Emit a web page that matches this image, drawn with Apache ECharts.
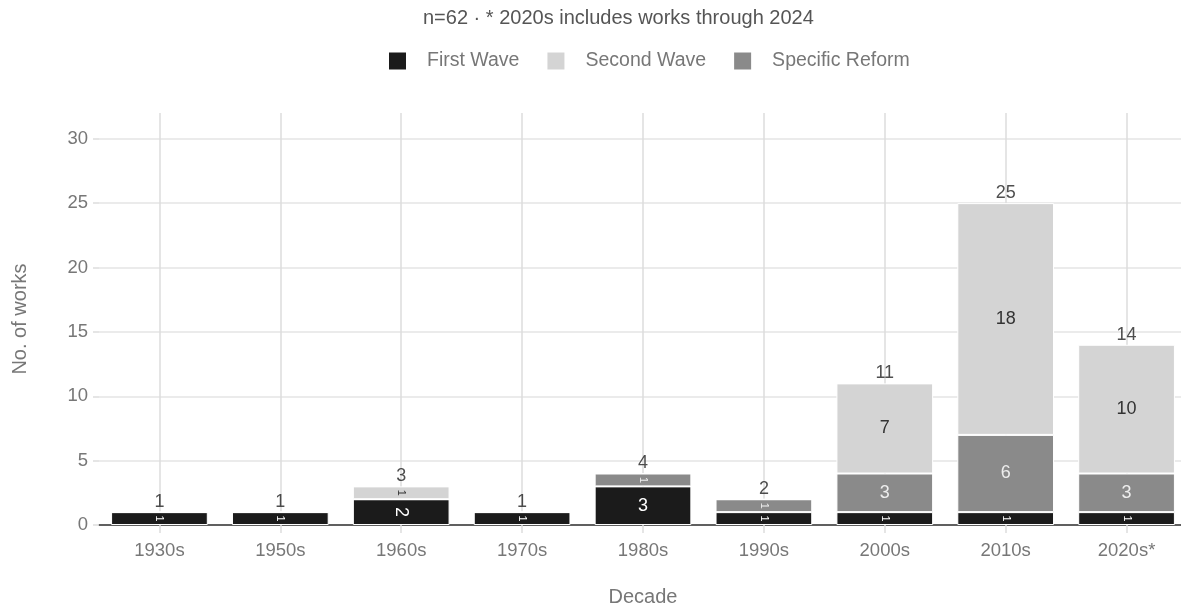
<!DOCTYPE html>
<html>
<head>
<meta charset="utf-8">
<script src="https://cdn.jsdelivr.net/npm/echarts@6/dist/echarts.min.js"></script>
<style>
  html, body { margin: 0; padding: 0; background: #fff; }
  #chart { width: 1181px; height: 610px; }
</style>
</head>
<body>
<div id="chart"></div>
<script>
// Works per decade, split by wave
const decades = ['1930s', '1950s', '1960s', '1970s', '1980s', '1990s', '2000s', '2010s', '2020s*'];
const firstWave = [1, 1, 2, 1, 3, 1, 1, 1, 1];
const specificReform = [0, 0, 0, 0, 1, 1, 3, 6, 3];
const secondWave = [0, 0, 1, 0, 0, 0, 7, 18, 10];
const yTicks = [0, 5, 10, 15, 20, 25, 30];

const FONT = '"Liberation Sans", Arial, sans-serif';
const totals = decades.map((_, i) => firstWave[i] + specificReform[i] + secondWave[i]);

// Segment labels: short segments get a small, rotated label
function segmentData(values, textColor) {
  return values.map(v => {
    if (!v) return { value: v, label: { show: false } };
    const small = v <= 2;
    return {
      value: v,
      label: {
        show: true,
        color: textColor,
        rotate: small ? -90 : 0,
        fontSize: v === 1 ? 11 : 18
      }
    };
  });
}

function barSeries(name, values, color, textColor) {
  return {
    name: name,
    type: 'bar',
    stack: 'works',
    barCategoryGap: '20%',
    itemStyle: { color: color, borderColor: '#ffffff', borderWidth: 1 },
    label: { position: 'inside', fontFamily: FONT },
    emphasis: { disabled: true },
    data: segmentData(values, textColor)
  };
}

const chart = echarts.init(document.getElementById('chart'), null, { renderer: 'canvas' });
chart.setOption({
  animation: false,
  backgroundColor: '#ffffff',
  title: {
    text: 'n=62 · * 2020s includes works through 2024',
    left: 418,
    top: 3,
    textStyle: { fontFamily: FONT, fontSize: 20, fontWeight: 'normal', color: '#555' }
  },
  legend: {
    left: 384,
    top: 46,
    itemWidth: 17,
    itemHeight: 17,
    itemGap: 28,
    icon: 'rect',
    itemStyle: { borderWidth: 0 },
    data: ['First Wave', 'Second Wave', 'Specific Reform'],
    textStyle: { fontFamily: FONT, fontSize: 19.5, color: '#777', padding: [0, 0, 0, 16] }
  },
  grid: { left: 99, right: -6, top: 113, bottom: 85, outerBoundsMode: 'none', containLabel: false },
  xAxis: {
    type: 'category',
    data: decades,
    name: 'Decade',
    nameLocation: 'middle',
    nameGap: 62,
    nameTextStyle: { fontFamily: FONT, fontSize: 20, color: '#777' },
    axisLine: { show: true, lineStyle: { color: '#333', width: 1.5 } },
    axisTick: { show: true, alignWithLabel: true, length: 8, lineStyle: { color: '#dddddd', width: 1.5 } },
    axisLabel: { fontFamily: FONT, fontSize: 18.5, color: '#777', margin: 16 },
    splitLine: { show: true, alignWithLabel: true, lineStyle: { color: '#dddddd', width: 1.5 } }
  },
  yAxis: {
    type: 'value',
    min: 0,
    max: 32,
    interval: 5,
    name: 'No. of works',
    nameLocation: 'middle',
    nameGap: 69,
    nameTextStyle: { fontFamily: FONT, fontSize: 20, color: '#777' },
    axisLine: { show: false },
    axisTick: { show: true, length: 6, customValues: yTicks, lineStyle: { color: '#dddddd', width: 1.5 } },
    axisLabel: { fontFamily: FONT, fontSize: 18.5, color: '#777', margin: 11, customValues: yTicks },
    splitLine: { show: true, lineStyle: { color: '#e4e4e4', width: 1.5 } }
  },
  series: [
    barSeries('First Wave', firstWave, '#1b1b1b', '#ffffff'),
    barSeries('Specific Reform', specificReform, '#8a8a8a', '#eeeeee'),
    barSeries('Second Wave', secondWave, '#d4d4d4', '#333333'),
    {
      name: 'Total',
      type: 'scatter',
      symbolSize: 0,
      silent: true,
      data: totals,
      label: {
        show: true,
        position: 'top',
        distance: 1,
        fontFamily: FONT,
        fontSize: 18,
        color: '#222'
      },
      z: 5
    }
  ]
});
</script>
</body>
</html>
